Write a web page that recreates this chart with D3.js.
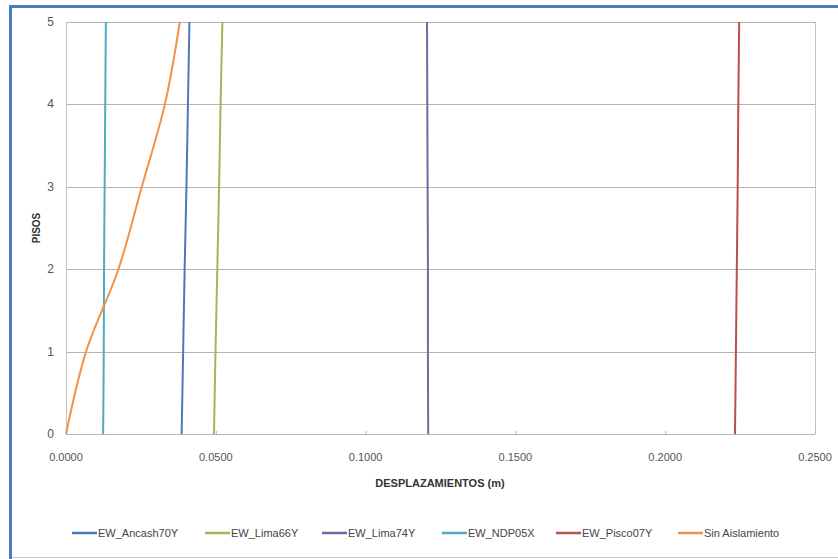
<!DOCTYPE html>
<html>
<head>
<meta charset="utf-8">
<script src="https://cdn.jsdelivr.net/npm/d3@7"></script>
<style>
  body { margin: 0; background: #fff; }
  text { font-family: "Liberation Sans Narrow", "Liberation Sans", Arial, sans-serif; }
</style>
</head>
<body>
<div id="holder"></div>
<script>
// floors (pisos)
var pisos = [0, 1, 2, 3, 4, 5];

// displacements (m) per floor
var ancash70Y = [0.0386, 0.0391, 0.0396, 0.0402, 0.0407, 0.0412];
var lima66Y   = [0.0494, 0.0499, 0.0505, 0.0511, 0.0516, 0.0522];
var lima74Y   = [0.1209, 0.1208, 0.1208, 0.1207, 0.1206, 0.1205];
var ndp05X    = [0.0124, 0.0126, 0.0127, 0.0129, 0.0131, 0.0133];
var pisco07Y  = [0.2233, 0.2236, 0.2239, 0.2242, 0.2244, 0.2247];
var sinAisl   = [0.0000, 0.0067, 0.0175, 0.0253, 0.0330, 0.0380];

var seriesNames = ["EW_Ancash70Y", "EW_Lima66Y", "EW_Lima74Y", "EW_NDP05X", "EW_Pisco07Y", "Sin Aislamiento"];
var seriesColors = ["#4a7ab5", "#9bbb59", "#7a63a0", "#4bacc6", "#b9504d", "#f0924a"];
var seriesValues = [ancash70Y, lima66Y, lima74Y, ndp05X, pisco07Y, sinAisl];

var xTicks = [0, 0.05, 0.1, 0.15, 0.2, 0.25];
var yTicks = [0, 1, 2, 3, 4, 5];

var W = 838, H = 559;
var svg = d3.select('#holder').append('svg').attr('width', W).attr('height', H);

// outer frame
svg.append('rect').attr('x', 0).attr('y', 0).attr('width', W).attr('height', H).style('fill', '#fff');
svg.append('line').attr('x1', 9).attr('x2', W).attr('y1', 6.5).attr('y2', 6.5)
  .style('stroke', '#4a7ebb').style('stroke-width', 3);
svg.append('line').attr('x1', 10.5).attr('x2', 10.5).attr('y1', 5).attr('y2', H)
  .style('stroke', '#4a7ebb').style('stroke-width', 3);
svg.append('line').attr('x1', 12).attr('x2', W).attr('y1', 557.5).attr('y2', 557.5)
  .style('stroke', '#c8c8c8').style('stroke-width', 1);

var x = d3.scaleLinear().domain([0, 0.25]).range([66, 815]);
var y = d3.scaleLinear().domain([0, 5]).range([434, 22]);

// horizontal gridlines
svg.append('g').selectAll('line').data(yTicks).enter().append('line')
  .attr('x1', x(0)).attr('x2', x(0.25))
  .attr('y1', function(d) { return Math.round(y(d)) + 0.5; })
  .attr('y2', function(d) { return Math.round(y(d)) + 0.5; })
  .style('stroke', '#b4b4b4').style('stroke-width', 1);

// plot box sides
svg.append('line').attr('x1', x(0) + 0.5).attr('x2', x(0) + 0.5).attr('y1', y(5)).attr('y2', y(0))
  .style('stroke', '#c4c4c4');
svg.append('line').attr('x1', x(0.25) + 0.5).attr('x2', x(0.25) + 0.5).attr('y1', y(5)).attr('y2', y(0))
  .style('stroke', '#c4c4c4');

// small x tick marks
svg.append('g').selectAll('line').data(xTicks).enter().append('line')
  .attr('x1', function(d) { return x(d) + 0.5; }).attr('x2', function(d) { return x(d) + 0.5; })
  .attr('y1', y(0) - 3).attr('y2', y(0))
  .style('stroke', '#b4b4b4');

// tick labels
svg.append('g').selectAll('text').data(yTicks).enter().append('text')
  .attr('x', 54).attr('y', function(d) { return y(d) + 4; })
  .attr('text-anchor', 'end').style('font-size', '12px').style('fill', '#555')
  .text(function(d) { return d; });

svg.append('g').selectAll('text').data(xTicks).enter().append('text')
  .attr('x', function(d) { return x(d); }).attr('y', 461)
  .attr('text-anchor', 'middle').style('font-size', '11px').style('fill', '#555')
  .text(function(d) { return d3.format('.4f')(d); });

// axis titles
svg.append('text').attr('x', 440).attr('y', 487).attr('text-anchor', 'middle')
  .style('font-size', '11px').style('font-weight', 'bold').style('fill', '#333')
  .text('DESPLAZAMIENTOS (m)');
svg.append('text').attr('transform', 'translate(40,228) rotate(-90)').attr('text-anchor', 'middle')
  .style('font-size', '10px').style('font-weight', 'bold').style('fill', '#333')
  .text('PISOS');

// series
var line = d3.line()
  .x(function(d) { return x(d[0]); })
  .y(function(d) { return y(d[1]); })
  .curve(d3.curveCatmullRom.alpha(0.5));

seriesValues.forEach(function(vals, i) {
  var pts = vals.map(function(v, k) { return [v, pisos[k]]; });
  svg.append('path').datum(pts).attr('d', line)
    .style('fill', 'none').style('stroke', seriesColors[i]).style('stroke-width', 2);
});

// legend
var legendX = [72, 205, 322, 442, 556, 678];
var lg = svg.append('g').selectAll('g').data(seriesNames).enter().append('g')
  .attr('transform', function(d, i) { return 'translate(' + legendX[i] + ',533)'; });
lg.append('line').attr('x1', 0).attr('x2', 25).attr('y1', 0).attr('y2', 0)
  .style('stroke', function(d, i) { return seriesColors[i]; }).style('stroke-width', 2.5);
lg.append('text').attr('x', 26).attr('y', 4).style('font-size', '11px').style('fill', '#444')
  .text(function(d) { return d; });
</script>
</body>
</html>
